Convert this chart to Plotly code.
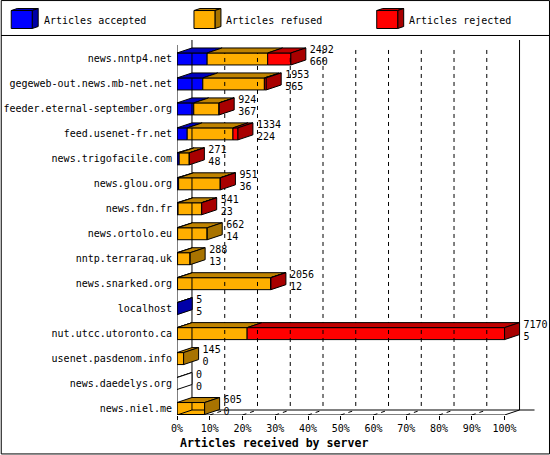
import plotly.graph_objs as go

# Data
servers = ['news.nntp4.net', 'gegeweb-out.news.mb-net.net', 'feeder.eternal-september.org',
           'feed.usenet-fr.net', 'news.trigofacile.com', 'news.glou.org', 'news.fdn.fr',
           'news.ortolo.eu', 'nntp.terraraq.uk', 'news.snarked.org', 'localhost',
           'nut.utcc.utoronto.ca', 'usenet.pasdenom.info', 'news.daedelys.org', 'news.niel.me']
accepted = [660, 565, 367, 224, 48, 36, 23, 14, 13, 12, 5, 5, 0, 0, 0]
refused = [1325, 1348, 553, 1001, 221, 910, 513, 648, 275, 2038, 0, 1530, 145, 0, 605]
rejected = [507, 40, 4, 109, 2, 5, 5, 0, 0, 6, 0, 5635, 0, 0, 0]
totals = [2492, 1953, 924, 1334, 271, 951, 541, 662, 288, 2056, 5, 7170, 145, 0, 605]
pct_ticks = [0, 10, 20, 30, 40, 50, 60, 70, 80, 90, 100]
series_names = ['Articles accepted', 'Articles refused', 'Articles rejected']

# colours: front, top, side
BLUE = ('#0000ff', '#0000bf', '#0000a8')
ORANGE = ('#ffaf00', '#bf8300', '#a87300')
RED = ('#ff0000', '#bf0000', '#a80000')

WIDTH, HEIGHT = 550, 455
LEFT, RIGHT, TOP, BOTTOM = 176.5, 549.0, 36.0, 415.5
PX_PER_PCT = 3.28
PX_PER_ROW = 25.0
ROW0_PX = 59.0
DX = 15 / PX_PER_PCT  # depth of the 3d effect, in axis units
DY = 5 / PX_PER_ROW
HALF = 6 / PX_PER_ROW
FONT = 'DejaVu Sans Mono'


def row_of(py):
    return (py - ROW0_PX) / PX_PER_ROW


def pct(v):
    return v * 100.0 / max(totals)


def paper(px, py):
    return (px - LEFT) / (RIGHT - LEFT), (BOTTOM - py) / (BOTTOM - TOP)


fig = go.Figure()
rows = list(range(len(servers)))
FLOOR_FRONT = row_of(415.5)
FLOOR_BACK = row_of(410.5)

# back wall grid, dashed
for t in pct_ticks[1:-1]:
    fig.add_trace(go.Scatter(x=[t + DX, t + DX], y=[row_of(50), FLOOR_BACK], mode='lines',
                             line=dict(color='black', width=1, dash='4px,4px'),
                             cliponaxis=False, hoverinfo='skip', showlegend=False))
    fig.add_trace(go.Scatter(x=[t, t + DX], y=[FLOOR_FRONT, FLOOR_BACK], mode='lines',
                             line=dict(color='black', width=1, dash='4px,4px'),
                             cliponaxis=False, hoverinfo='skip', showlegend=False))

# frame lines
frame = [
    ([0, 0], [row_of(45), FLOOR_FRONT]),
    ([DX, DX], [row_of(40), FLOOR_BACK]),
    ([100 + DX, 100 + DX], [row_of(40), FLOOR_BACK]),
    ([0, 100], [FLOOR_FRONT, FLOOR_FRONT]),
    ([DX, 100 + 2 * DX], [FLOOR_BACK, FLOOR_BACK]),
    ([-DX, DX], [FLOOR_FRONT + DY, FLOOR_BACK]),
    ([100, 100 + DX], [FLOOR_FRONT, FLOOR_BACK]),
]
for xs, ys in frame:
    fig.add_trace(go.Scatter(x=xs, y=ys, mode='lines', line=dict(color='black', width=1),
                             cliponaxis=False, hoverinfo='skip', showlegend=False))

# front faces, stacked on the percent axis
base = [0.0] * len(rows)
for vals, cols, name in zip([accepted, refused, rejected], [BLUE, ORANGE, RED], series_names):
    widths = [pct(v) for v in vals]
    fig.add_trace(go.Bar(y=rows, x=widths, base=base, orientation='h', width=2 * HALF, name=name,
                         marker=dict(color=cols[0], line=dict(color='black', width=1)),
                         showlegend=False, hoverinfo='skip'))
    base = [b + w for b, w in zip(base, widths)]

# top and side faces
for i, r in enumerate(rows):
    start = 0.0
    segs = []
    for vals, cols in zip([accepted, refused, rejected], [BLUE, ORANGE, RED]):
        w = pct(vals[i])
        if w > 0:
            segs.append((start, start + w, cols))
        start += w
    if not segs:
        segs = [(0.0, 0.0, ('white', 'white', 'white'))]
    y0, y1 = r - HALF, r + HALF
    for a, b, cols in segs:
        fig.add_trace(go.Scatter(x=[a, a + DX, b + DX, b, a], y=[y0, y0 - DY, y0 - DY, y0, y0],
                                 mode='lines', fill='toself', fillcolor=cols[1],
                                 line=dict(color='black', width=1), cliponaxis=False,
                                 hoverinfo='skip', showlegend=False))
    b, cols = segs[-1][1], segs[-1][2]
    fig.add_trace(go.Scatter(x=[b, b + DX, b + DX, b, b], y=[y0, y0 - DY, y1 - DY, y1, y0],
                             mode='lines', fill='toself', fillcolor=cols[2],
                             line=dict(color='black', width=1), cliponaxis=False,
                             hoverinfo='skip', showlegend=False))

# two value labels next to each bar
ends = [pct(t) + DX + 4 / PX_PER_PCT for t in totals]
fig.add_trace(go.Scatter(x=ends, y=[r - 0.32 for r in rows], mode='text', text=[str(t) for t in totals],
                         textposition='middle right', textfont=dict(family=FONT, size=10, color='black'),
                         cliponaxis=False, hoverinfo='skip', showlegend=False))
fig.add_trace(go.Scatter(x=ends, y=[r + 0.16 for r in rows], mode='text', text=[str(a) for a in accepted],
                         textposition='middle right', textfont=dict(family=FONT, size=10, color='black'),
                         cliponaxis=False, hoverinfo='skip', showlegend=False))

# legend cubes and chrome, in pixels
shapes = []


def poly(points, fill):
    path = ''
    for n, (px, py) in enumerate(points):
        fx, fy = paper(px, py)
        path += ('M' if n == 0 else 'L') + ' %.5f %.5f ' % (fx, fy)
    shapes.append(dict(type='path', xref='paper', yref='paper', path=path + 'Z',
                       fillcolor=fill, line=dict(color='black', width=1)))


annotations = []
for x0, cols, name in zip([10.5, 193.5, 376.5], [BLUE, ORANGE, RED], series_names):
    x1 = x0 + 21
    poly([(x0, 10.5), (x0 + 6, 8.5), (x1 + 6, 8.5), (x1, 10.5)], cols[1])
    poly([(x1, 10.5), (x1 + 6, 8.5), (x1 + 6, 26.5), (x1, 28.5)], cols[2])
    poly([(x0, 10.5), (x1, 10.5), (x1, 28.5), (x0, 28.5)], cols[0])
    fx, fy = paper(x0 + 30.5, 20)
    annotations.append(dict(x=fx, y=fy, xref='paper', yref='paper', text=name, showarrow=False,
                            xanchor='left', yanchor='middle', xshift=0,
                            font=dict(family=FONT, size=10, color='black')))

poly([(0.5, 35.5), (549.5, 35.5)], 'rgba(0,0,0,0)')
poly([(0.5, 0.5), (549.5, 0.5), (549.5, 454.5), (0.5, 454.5)], 'rgba(0,0,0,0)')

fx, fy = paper(274, 444)
annotations.append(dict(x=fx, y=fy, xref='paper', yref='paper', text='<b>Articles received by server</b>',
                        showarrow=False, xanchor='center', yanchor='middle',
                        font=dict(family=FONT, size=11.6, color='black')))

fig.update_layout(
    width=WIDTH, height=HEIGHT,
    margin=dict(l=LEFT, r=WIDTH - RIGHT, t=TOP, b=HEIGHT - BOTTOM, pad=0, autoexpand=False),
    paper_bgcolor='white', plot_bgcolor='white',
    barmode='overlay', showlegend=False,
    shapes=shapes, annotations=annotations,
    font=dict(family=FONT, size=10, color='black'),
    xaxis=dict(range=[0, (RIGHT - LEFT) / PX_PER_PCT], tickvals=pct_ticks,
               ticktext=['%d%%' % t for t in pct_ticks], ticks='outside', ticklen=4,
               tickcolor='black', tickwidth=1, showgrid=False, zeroline=False, showline=False,
               tickfont=dict(family=FONT, size=10)),
    yaxis=dict(range=[row_of(BOTTOM), row_of(TOP)], tickvals=rows, ticktext=servers, ticks='',
               showgrid=False, zeroline=False, showline=False, ticklabelstandoff=4,
               tickfont=dict(family=FONT, size=10)),
)

fig.write_html("out.html", post_script="document.body.style.margin='0';", config=dict(displayModeBar=False))
